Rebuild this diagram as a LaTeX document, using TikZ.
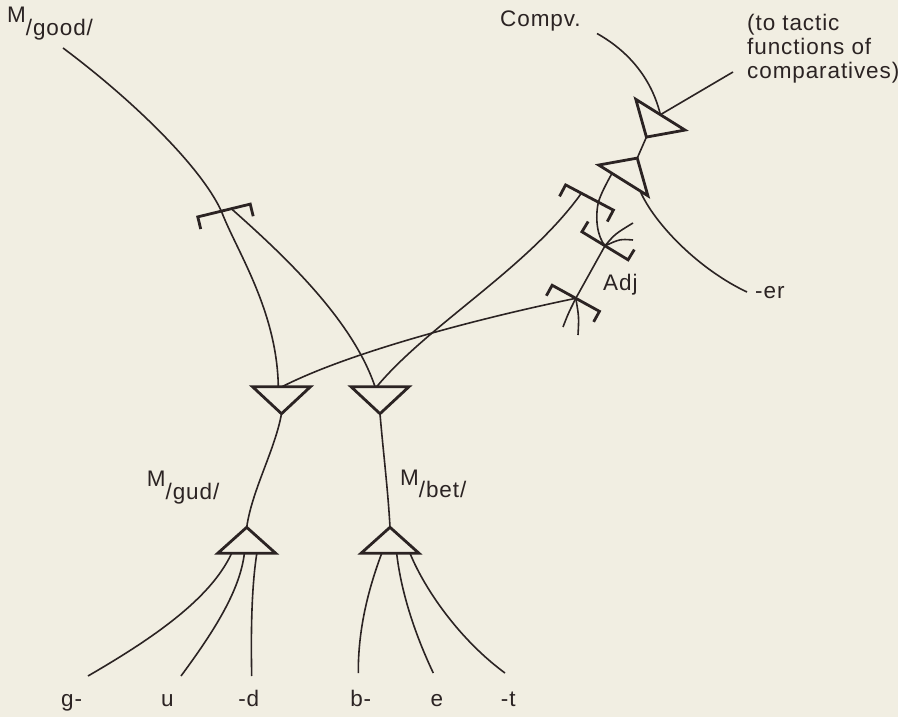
\documentclass[tikz,border=0pt]{standalone}
\usepackage{fontspec}
\setmainfont[LetterSpace=4]{Liberation Sans}
\usetikzlibrary{calc}
\definecolor{paper}{HTML}{F1EEE2}
\definecolor{ink}{HTML}{2B2323}
\tikzset{
  every node/.style={font=\fontsize{22.5}{24}\selectfont, text=ink, inner sep=0pt},
  ln/.style  ={draw=ink, line width=1.6pt},
  tri/.style ={draw=ink, line width=2.8pt, line join=miter},
  brk/.style ={draw=ink, line width=2.8pt},
  lbl/.style ={anchor=base west},
  leaf/.style={anchor=base},
}
% M with lowered morpheme spelling
\newcommand{\Msub}[1]{M\raisebox{-12.5pt}{/#1/}}
% AND triangle: name, base centre, rotation, apex offset (+ down, - up)
\newcommand{\andtri}[4]{%
  \begin{scope}[shift={(#2)}, rotate=#3]
    \draw[tri] (-29,0) -- (29,0) -- (0,#4) -- cycle;
    \coordinate (#1) at (0,0);
    \coordinate (#1-a) at (-29,0);
    \coordinate (#1-b) at (29,0);
    \coordinate (#1-tip) at (0,#4);
  \end{scope}}
% OR bracket: name, bar centre, rotation, tick length (+ down, - up)
\newcommand{\orbr}[4]{%
  \begin{scope}[shift={(#2)}, rotate=#3]
    \draw[brk] (-27,#4) -- (-27,0) -- (27,0) -- (27,#4);
    \coordinate (#1) at (0,0);
    \coordinate (#1-a) at (-27,0);
    \coordinate (#1-b) at (27,0);
  \end{scope}}

\begin{document}
\begin{tikzpicture}[x=1pt, y=-1pt]
\fill[paper] (0,0) rectangle (898,717);
\useasboundingbox (0,0) rectangle (898,717);

% ---------------- labels ------------------------------------------------------
\node[lbl] (good)  at (7,22.7)    {\Msub{good}};
\node[lbl] (compv) at (500,26.7)  {Compv.};
\node[align=left, anchor=north west] (tactic) at (747,13.5)
  {(to tactic\\functions of\\comparatives)};
\node[lbl] (er)    at (755,298)   {-er};
\node[lbl] (adj)   at (603,290)   {Adj};
\node[lbl] (gud)   at (146.7,486.7) {\Msub{gud}};
\node[lbl] (bet)   at (400,485)   {\Msub{bet}};
\node[leaf] (g) at (71.7,706)  {g-};
\node[leaf] (u) at (167.5,706) {u};
\node[leaf] (d) at (248.8,706) {-d};
\node[leaf] (b) at (360.8,706) {b-};
\node[leaf] (e) at (437,706)   {e};
\node[leaf] (t) at (508.3,706) {-t};

\coordinate (good-end)   at (63,48);
\coordinate (compv-end)  at (597,33.5);
\coordinate (tactic-end) at (733,72);
\coordinate (er-end)     at (747,292);
\coordinate (g-end) at (88,676);
\coordinate (u-end) at (181,676);
\coordinate (d-end) at (251.7,676);
\coordinate (b-end) at (358.3,673);
\coordinate (e-end) at (433.3,673);
\coordinate (t-end) at (505,673);

% ---------------- triangles -----------------------------------------------------
\andtri{tg}{281.5,386.7}{0}{27}
\andtri{tb}{380,386.7}{0}{27}
\andtri{ug}{246.7,553.3}{0}{-26}
\andtri{ub}{390,553.3}{0}{-26}
\andtri{ur}{660.4,114.7}{-32}{26.4}
\andtri{lr}{623.3,180.4}{-32}{-26.3}

% ---------------- brackets ------------------------------------------------------
\orbr{bg}{224,210.5}{13.7}{12.5}
\orbr{br}{589.5,197.5}{-27.8}{13}
\orbr{adj1}{605,245.8}{-31.3}{-12}
\orbr{adj2}{575.8,298.3}{-28.9}{12}

% attachment points
\coordinate (bg-1) at ($(bg-a)!0.45!(bg-b)$);
\coordinate (bg-2) at ($(bg-a)!0.64!(bg-b)$);
\coordinate (br-1) at ($(br-a)!0.33!(br-b)$);
\coordinate (br-2) at ($(br-a)!0.685!(br-b)$);
\coordinate (tg-1) at ($(tg-a)!0.445!(tg-b)$);
\coordinate (tg-2) at ($(tg-a)!0.51!(tg-b)$);
\coordinate (tb-1) at ($(tb-a)!0.414!(tb-b)$);
\coordinate (tb-2) at ($(tb-a)!0.443!(tb-b)$);
\coordinate (ug-1) at ($(ug-a)!0.24!(ug-b)$);
\coordinate (ug-2) at ($(ug-a)!0.46!(ug-b)$);
\coordinate (ug-3) at ($(ug-a)!0.675!(ug-b)$);
\coordinate (ub-1) at ($(ub-a)!0.357!(ub-b)$);
\coordinate (ub-2) at ($(ub-a)!0.615!(ub-b)$);
\coordinate (ub-3) at ($(ub-a)!0.845!(ub-b)$);
\coordinate (lr-1) at ($(lr-a)!0.27!(lr-b)$);
\coordinate (lr-2) at ($(lr-a)!0.84!(lr-b)$);
\coordinate (adj1-s1) at (633,223);
\coordinate (adj1-s2) at (633,240);
\coordinate (adj2-s1) at (563,327);
\coordinate (adj2-s2) at (578,335);

% ---------------- connections ---------------------------------------------------
\draw[ln] (good-end) .. controls (130,98) and (200,165) .. (bg-1)
          .. controls (236,250) and (277,310) .. (tg-1);
\draw[ln] (bg-2) .. controls (280,252) and (352,318) .. (tb-1);
\draw[ln] (br-1) .. controls (528,268) and (428,325) .. (tb-2);
\draw[ln] (adj2) .. controls (480,318) and (350,352) .. (tg-2);
\draw[ln] (tg-tip) .. controls (275,450) and (252,490) .. (ug-tip);
\draw[ln] (tb-tip) .. controls (383,450) and (388,490) .. (ub-tip);

\draw[ln] (ug-1) .. controls (210,600) and (150,640) .. (g-end);
\draw[ln] (ug-2) .. controls (240,590) and (215,630) .. (u-end);
\draw[ln] (ug-3) .. controls (251,590) and (251,640) .. (d-end);
\draw[ln] (ub-1) .. controls (368,590) and (358,630) .. (b-end);
\draw[ln] (ub-2) .. controls (402,600) and (420,645) .. (e-end);
\draw[ln] (ub-3) .. controls (425,590) and (460,640) .. (t-end);

\draw[ln] (compv-end) .. controls (630,52) and (652,80) .. (ur);
\draw[ln] (tactic-end) -- (ur);
\draw[ln] (ur-tip) -- (lr-tip);
\draw[ln] (lr-1) .. controls (605,186) and (601,194) .. (br-2)
          .. controls (595,218) and (597,236) .. (adj1);
\draw[ln] (lr-2) .. controls (655,225) and (700,270) .. (er-end);
\draw[ln] (adj1) -- (adj2);

% stubs to other adjectives
\draw[ln] (adj1) .. controls (615,234) .. (adj1-s1);
\draw[ln] (adj1) .. controls (620,239) .. (adj1-s2);
\draw[ln] (adj2) .. controls (568,314) .. (adj2-s1);
\draw[ln] (adj2) .. controls (579,317) .. (adj2-s2);

\end{tikzpicture}
\end{document}
